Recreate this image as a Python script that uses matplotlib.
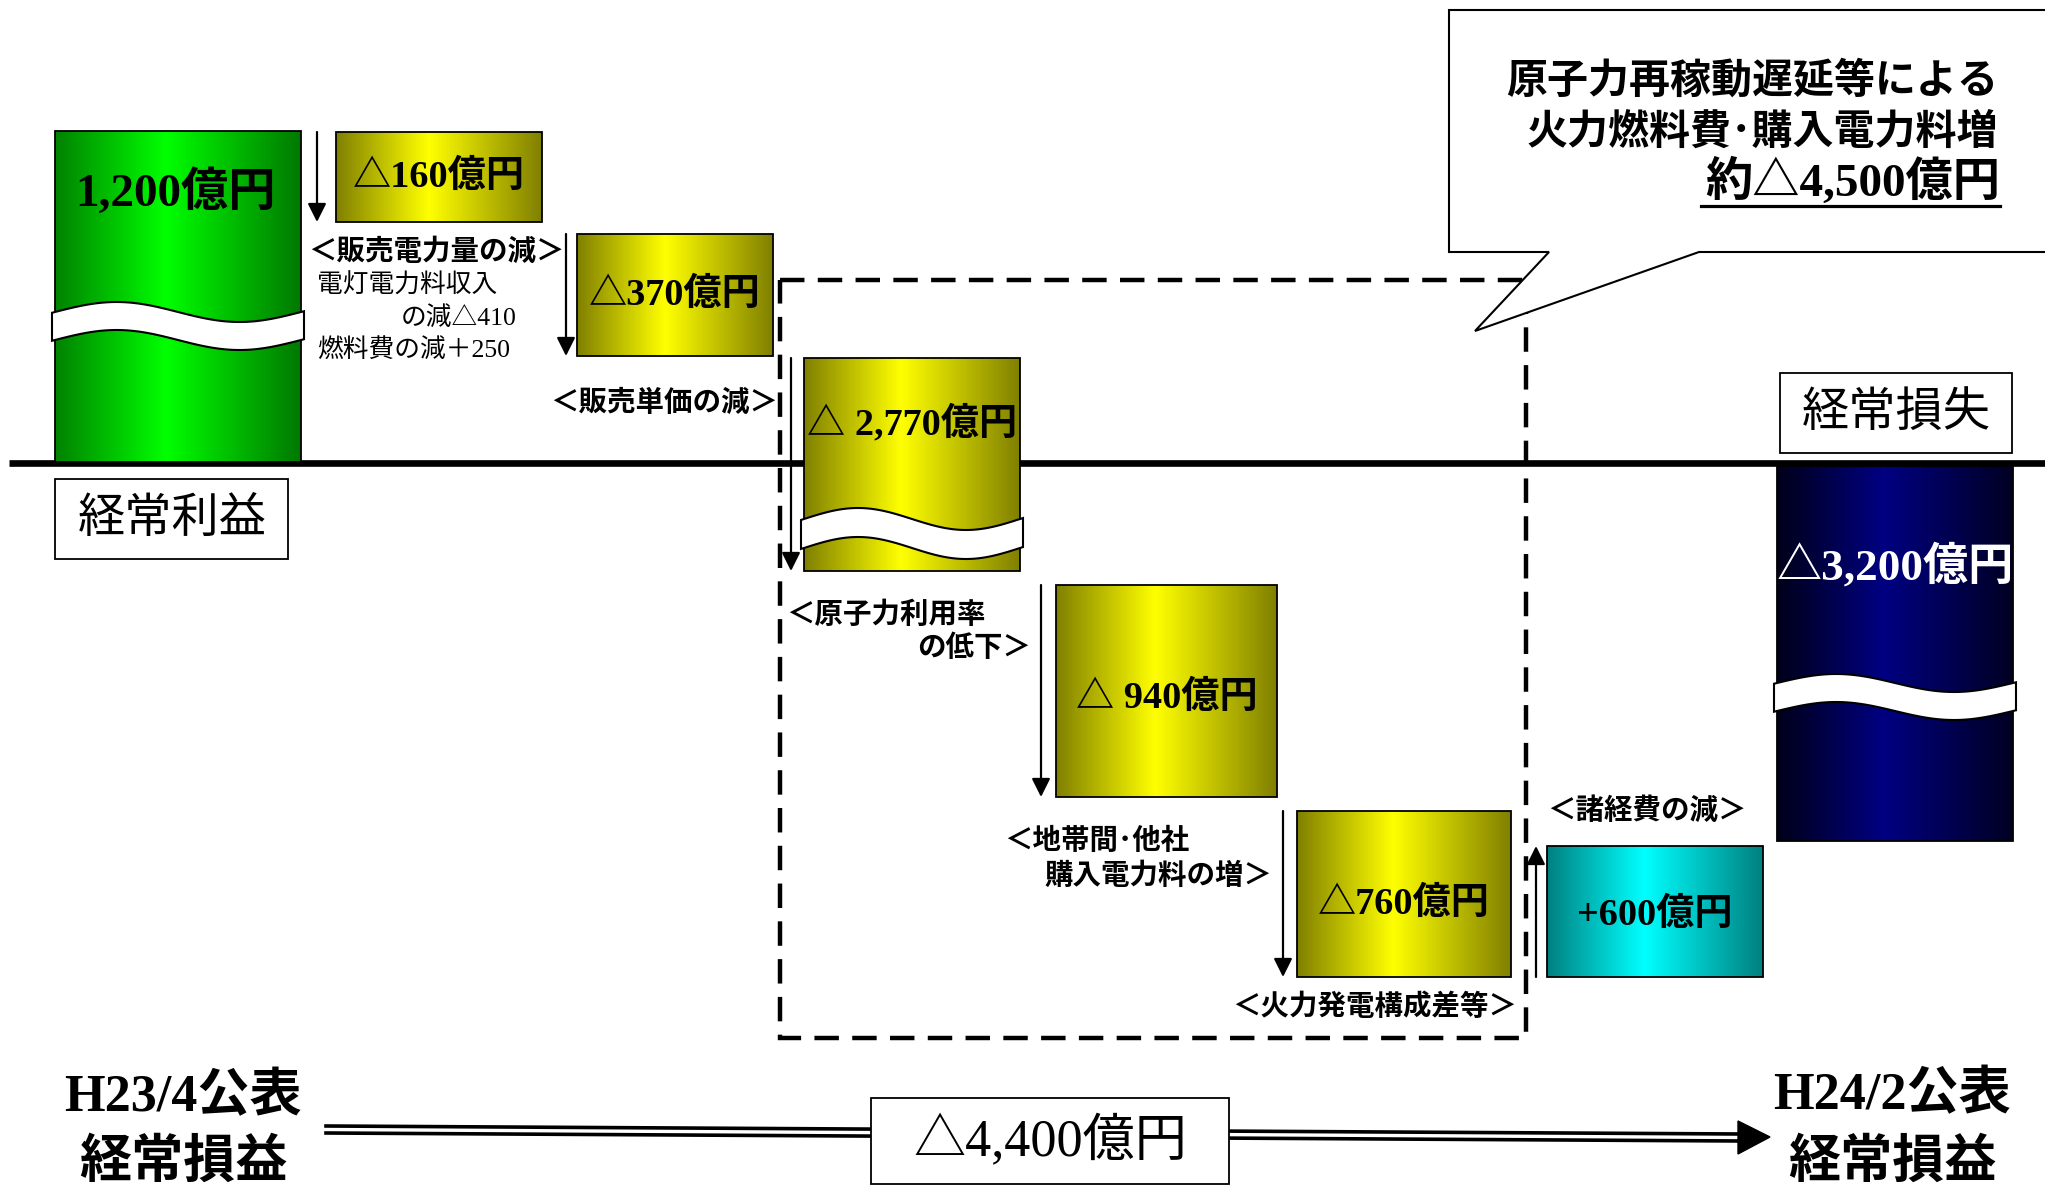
import numpy as np
import matplotlib.pyplot as plt
from matplotlib.patches import Rectangle, Polygon

# 経常損益の増減要因（億円）
start_value = 1200
end_value = -3200
total_change = -4400
items = ['＜販売電力量の減＞', '＜販売単価の減＞', '＜原子力利用率\nの低下＞',
         '＜地帯間･他社\n購入電力料の増＞', '＜火力発電構成差等＞', '＜諸経費の減＞']
deltas = [-160, -370, -2770, -940, -760, 600]
sub_items = ['電灯電力料収入\nの減', '燃料費の減']
sub_values = [-410, 250]
callout_lines = ['原子力再稼動遅延等による', '火力燃料費･購入電力料増']
callout_value = -4500
start_name = ['H23/4公表', '経常損益']
end_name = ['H24/2公表', '経常損益']

# レイアウト（ピクセル座標）
box_x0 = [336, 577, 804, 1056, 1297, 1547]
box_x1 = [542, 773, 1020, 1277, 1511, 1763]
box_y0 = [132, 234, 358, 585, 811, 846]
box_y1 = [222, 356, 571, 797, 977, 977]
arrow_x = [317, 566, 791, 1041, 1283, 1536]
text_gap = ['', '', ' ', ' ', '', '']
label_dy = [0, 0, -41, 7, 10, 4]
# 各ラベル: (x, y, ha) 行ごと
label_pos = [[(436, 252, 'center')],
             [(778, 403, 'right')],
             [(786, 615, 'left'), (1031, 648, 'right')],
             [(1004, 841, 'left'), (1272, 876, 'right')],
             [(1517, 1007, 'right')],
             [(1547, 811, 'left')]]

SERIF = ['Liberation Serif', 'Noto Sans CJK JP']
GOTH = ['Noto Sans CJK JP', 'DejaVu Sans']

YELLOW = ((128, 128, 0), (255, 255, 0), (128, 128, 0))
GREEN = ((0, 130, 0), (0, 255, 0), (0, 120, 0))
CYAN = ((0, 128, 128), (0, 255, 255), (0, 128, 128))
NAVY = ((0, 0, 25), (0, 0, 130), (0, 0, 35))


def oku(v, gap=''):
    sign = '△' if v < 0 else '+'
    return f'{sign}{gap}{abs(v):,}億円'


def grad_box(ax, x0, x1, y0, y1, cols, peak=0.45):
    t = np.linspace(0, 1, 300)
    left, mid, right = [np.array(c) / 255 for c in cols]
    img = np.zeros((1, len(t), 3))
    for i, tt in enumerate(t):
        if tt < peak:
            f = tt / peak
            img[0, i] = left + (mid - left) * f
        else:
            f = (tt - peak) / (1 - peak)
            img[0, i] = mid + (right - mid) * f
    ax.imshow(img, extent=(x0, x1, y1, y0), aspect='auto', interpolation='bilinear', zorder=2)
    ax.add_patch(Rectangle((x0, y0), x1 - x0, y1 - y0, fill=False, ec='black', lw=1.3, zorder=3))


def wave(ax, x0, x1, c, a, th):
    xs = np.linspace(x0 - 3, x1 + 3, 200)
    t = (xs - x0) / (x1 - x0)
    top = c - a * np.sin(2 * np.pi * t)
    bot = top + th
    pts = np.vstack([np.column_stack([xs, top]), np.column_stack([xs[::-1], bot[::-1]])])
    ax.add_patch(Polygon(pts, closed=True, fc='white', ec='black', lw=1.5, zorder=4))


def txt(ax, x, y, s, size, fam=SERIF, weight='bold', ha='center', color='black'):
    return ax.text(x, y, s, fontsize=size, family=fam, fontweight=weight, ha=ha, va='center',
                   color=color, zorder=7)


fig = plt.figure(figsize=(20.45, 11.91), dpi=100)
ax = fig.add_axes([0, 0, 1, 1])
ax.axis('off')

# 基準線
ax.plot([9, 2045], [463, 463], color='black', lw=4.8, zorder=1.5, solid_capstyle='butt')

# 点線枠
ax.add_patch(Rectangle((780, 280), 746, 758, fill=False, ec='black', lw=3.2,
                       ls=(0, (5.5, 3)), zorder=1))

# 期首 経常利益
grad_box(ax, 55, 301, 131, 462, GREEN)
wave(ax, 55, 301, 312, 10, 28)
txt(ax, 176, 193, f'{start_value:,}億円', 34)
ax.add_patch(Rectangle((55, 479), 233, 80, fc='white', ec='black', lw=1.3, zorder=3))
txt(ax, 172, 519, '経常利益', 34, fam=GOTH, weight='normal')

# 増減要因
for i, v in enumerate(deltas):
    cols = CYAN if v > 0 else YELLOW
    grad_box(ax, box_x0[i], box_x1[i], box_y0[i], box_y1[i], cols)
    if i == 2:
        wave(ax, box_x0[i], box_x1[i], 519, 11, 29)
    cx = (box_x0[i] + box_x1[i]) / 2
    cy = (box_y0[i] + box_y1[i]) / 2 + label_dy[i]
    txt(ax, cx, cy, oku(v, text_gap[i]), 27.5)
    if v < 0:
        a0, a1 = box_y0[i], box_y1[i]
    else:
        a0, a1 = box_y1[i], box_y0[i]
    ax.annotate('', xy=(arrow_x[i], a1), xytext=(arrow_x[i], a0),
                arrowprops=dict(arrowstyle='-|>', color='black', lw=1.6, mutation_scale=28,
                                shrinkA=0, shrinkB=0), zorder=6)
    for line, (lx, ly, ha) in zip(items[i].split('\n'), label_pos[i]):
        txt(ax, lx, ly, line, 20.5, fam=GOTH, ha=ha)

# 販売電力量の内訳
sub1 = sub_items[0].split('\n')
txt(ax, 317, 286, sub1[0], 18.5, weight='normal', ha='left')
txt(ax, 517, 318, sub1[1] + '△' + str(abs(sub_values[0])), 18.5, weight='normal', ha='right')
txt(ax, 317, 350, sub_items[1] + '＋' + str(sub_values[1]), 18.5, weight='normal', ha='left')

# 期末 経常損失
grad_box(ax, 1777, 2013, 466, 841, NAVY)
wave(ax, 1777, 2013, 683, 9, 28)
txt(ax, 1895, 566, oku(end_value), 32.5, color='white')
ax.add_patch(Rectangle((1780, 373), 232, 80, fc='white', ec='black', lw=1.3, zorder=3))
txt(ax, 1896, 413, '経常損失', 34, fam=GOTH, weight='normal')

# 吹き出し
call = [(1449, 10), (2060, 10), (2060, 252), (1699, 252), (1475, 331), (1549, 252), (1449, 252)]
ax.add_patch(Polygon(call, closed=True, fc='white', ec='black', lw=1.5, zorder=5))
txt(ax, 1998, 81, callout_lines[0], 29.5, fam=GOTH, ha='right')
txt(ax, 1998, 132, callout_lines[1], 29.5, fam=GOTH, ha='right')
txt(ax, 2000, 182, '約' + oku(callout_value), 34, ha='right')
ax.plot([1701, 2000], [206, 206], color='black', lw=2.3, zorder=7)

# 下段 二重矢印
ax.plot([326, 1740], [1126, 1134], color='black', lw=2.6, zorder=1)
ax.plot([326, 1740], [1133, 1141], color='black', lw=2.6, zorder=1)
ax.add_patch(Polygon([(1738, 1121), (1738, 1154), (1770, 1137)], closed=True, fc='black', ec='black', zorder=2))
ax.add_patch(Rectangle((871, 1098), 358, 86, fc='white', ec='black', lw=1.3, zorder=3))
txt(ax, 1050, 1141, oku(total_change), 37.5, weight='normal')

txt(ax, 183, 1098, start_name[0], 37.5)
txt(ax, 183, 1161, start_name[1], 37.5, fam=GOTH)
txt(ax, 1892, 1096, end_name[0], 37.5)
txt(ax, 1892, 1161, end_name[1], 37.5, fam=GOTH)

ax.set_xlim(0, 2045)
ax.set_ylim(1191, 0)
fig.savefig('out.png', dpi=100)
